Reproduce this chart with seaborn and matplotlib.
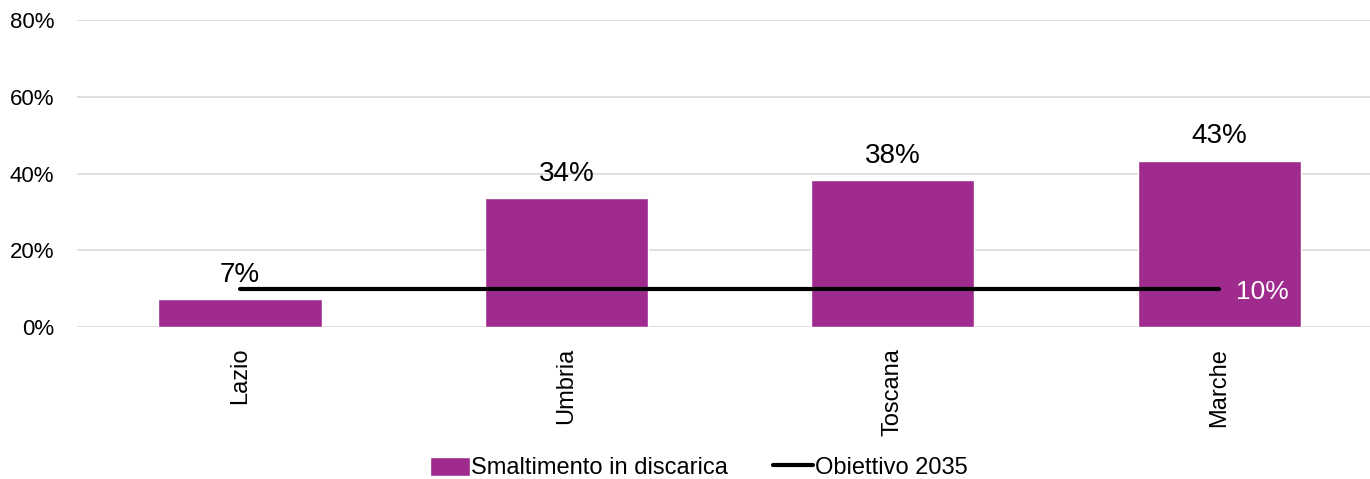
import matplotlib
matplotlib.use("Agg")
import matplotlib.pyplot as plt
import numpy as np
import pandas as pd
import seaborn as sns

regions = ["Lazio", "Umbria", "Toscana", "Marche"]
landfill_share = [0.073, 0.337, 0.384, 0.434]
target_2035 = [0.10, 0.10, 0.10, 0.10]
y_ticks = [0.0, 0.2, 0.4, 0.6, 0.8]

BAR_COLOR = "#A02B8F"

sns.set_theme(style="white")
plt.rcParams["font.family"] = ["Liberation Sans", "DejaVu Sans"]
plt.rcParams["text.color"] = "black"
plt.rcParams["xtick.color"] = "black"
plt.rcParams["ytick.color"] = "black"

df = pd.DataFrame({"region": regions, "share": landfill_share, "target": target_2035})

fig = plt.figure(figsize=(13.7, 4.79), dpi=100)
ax = fig.add_axes([0.056, 0.317, 0.953, 0.641])

sns.barplot(data=df, x="region", y="share", color=BAR_COLOR, width=0.5,
            saturation=1, ax=ax, label="Smaltimento in discarica")
sns.lineplot(x=np.arange(len(regions)), y=df["target"], color="black", linewidth=3,
             sort=False, ax=ax, label="Obiettivo 2035")
ax.lines[-1].set_solid_capstyle("round")

ax.bar_label(ax.containers[0], labels=[f"{v:.0%}" for v in landfill_share],
             padding=8, fontsize=20, color="black")
ax.annotate(f"{target_2035[-1]:.0%}", xy=(len(regions) - 1, target_2035[-1]),
            xytext=(12, -2), textcoords="offset points", ha="left", va="center",
            fontsize=19, color="white")

ax.set_ylim(0, 0.8)
ax.set_xlim(-0.5, len(regions) - 0.5)
ax.set_yticks(y_ticks)
ax.set_yticklabels([f"{t:.0%}" for t in y_ticks], fontsize=16)
ax.tick_params(axis="y", length=0, pad=16)
ax.tick_params(axis="x", length=0, labelsize=17, labelrotation=90, pad=15)
ax.yaxis.grid(True, color="#d9d9d9", linewidth=1.2)
ax.set_axisbelow(True)
for s in ax.spines.values():
    s.set_visible(False)
ax.set_xlabel("")
ax.set_ylabel("")

handles, labels = ax.get_legend_handles_labels()
order = [labels.index("Smaltimento in discarica"), labels.index("Obiettivo 2035")]
ax.legend_.remove()
fig.legend([handles[i] for i in order], [labels[i] for i in order], loc="center",
           bbox_to_anchor=(0.51, 0.023), ncol=2, frameon=False, fontsize=17,
           handlelength=1.7, handleheight=0.9, handletextpad=0.05, columnspacing=1.9)

fig.savefig("out.png", dpi=100)
